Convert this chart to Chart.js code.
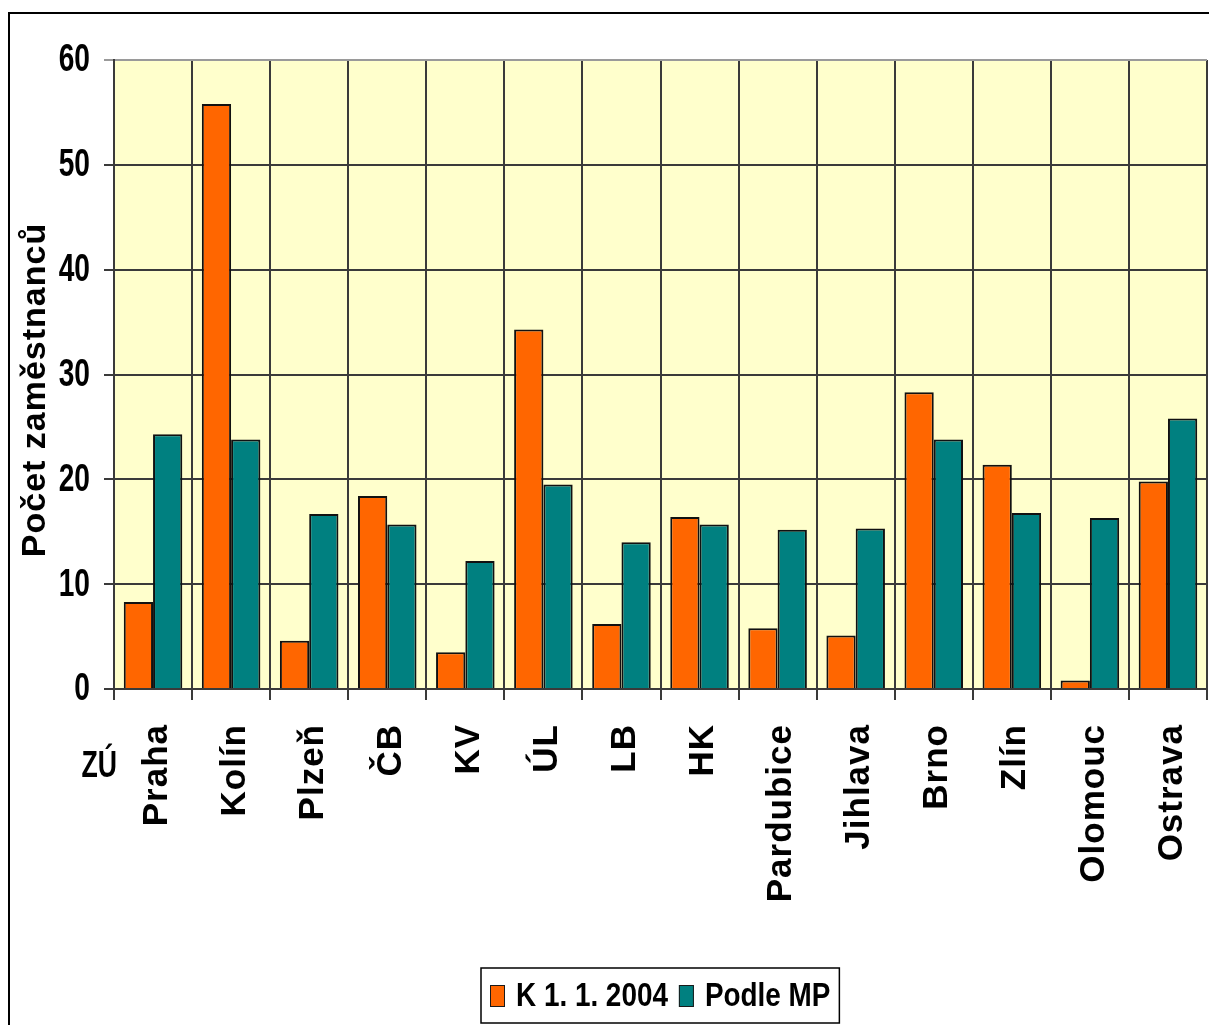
<!DOCTYPE html>
<html>
<head>
<meta charset="utf-8">
<script src="https://cdn.jsdelivr.net/npm/chart.js@4"></script>
<style>
  html, body { margin: 0; padding: 0; background: #fff; overflow: hidden; }
  #wrap { position: relative; width: 1209px; height: 1025px; }
  #frame { position: absolute; left: 8px; top: 12px; width: 1300px; height: 1100px;
           border-left: 2px solid #000; border-top: 2px solid #000; }
  #zamestnanci { position: absolute; left: 0; top: 0; }
</style>
</head>
<body>
<div id="wrap">
  <div id="frame"></div>
  <canvas id="zamestnanci" width="1209" height="1025"></canvas>
</div>
<script>
const categories = ['Praha', 'Kolín', 'Plzeň', 'ČB', 'KV', 'ÚL', 'LB', 'HK',
                    'Pardubice', 'Jihlava', 'Brno', 'Zlín', 'Olomouc', 'Ostrava'];
const k2004   = [8.3, 55.8, 4.6, 18.4, 3.5, 34.3, 6.2, 16.4, 5.8, 5.1, 28.3, 21.4, 0.8, 19.8];
const podleMP = [24.3, 23.8, 16.7, 15.7, 12.2, 19.5, 14.0, 15.7, 15.2, 15.3, 23.8, 16.8, 16.3, 25.8];
const seriesNames = ['K 1. 1. 2004', 'Podle MP'];
const seriesColors = ['#FF6600', '#008080'];
const yTitle = 'Počet zaměstnanců';
const groupTitle = 'ZÚ';

const FONT = "'Liberation Sans', Arial, sans-serif";
const gridDark = '#3a3a3a';
const gridEdge = '#9a9a9a';

// narrow bold text: plain Arial-metric face squeezed horizontally
function narrowText(ctx, text, x, y, squeeze) {
    ctx.save();
    ctx.translate(x, y);
    ctx.scale(squeeze, 1);
    ctx.fillText(text, 0, 0);
    ctx.restore();
}

const textPlugin = {
    id: 'axisText',
    afterDraw(chart) {
        const ctx = chart.ctx;
        const xs = chart.scales.x, ys = chart.scales.y;
        const area = chart.chartArea;
        ctx.save();
        ctx.fillStyle = '#000';

        // y tick labels
        ctx.font = 'bold 38px ' + FONT;
        ctx.textAlign = 'right';
        ctx.textBaseline = 'middle';
        ys.ticks.forEach(t => {
            narrowText(ctx, String(t.value), area.left - 24, ys.getPixelForValue(t.value) + 1, 0.74);
        });

        // category names, rotated
        ctx.font = 'bold 35px ' + FONT;
        ctx.letterSpacing = '1px';
        categories.forEach((name, i) => {
            const px = xs.getPixelForValue(i);
            ctx.save();
            ctx.translate(px + 4, area.bottom + 35);
            ctx.rotate(-Math.PI / 2);
            ctx.fillText(name, 0, 0);
            ctx.restore();
        });

        // y title
        ctx.letterSpacing = '1px';
        ctx.font = 'bold 34px ' + FONT;
        ctx.textAlign = 'center';
        ctx.save();
        ctx.translate(36, 390);
        ctx.rotate(-Math.PI / 2);
        ctx.fillText(yTitle, 0, 0);
        ctx.restore();

        // group caption under the axis
        ctx.letterSpacing = '0px';
        ctx.font = 'bold 36px ' + FONT;
        ctx.textAlign = 'right';
        narrowText(ctx, groupTitle, area.left + 3, area.bottom + 78, 0.74);
        ctx.restore();
    }
};

// legend: colour boxes and series names inside a framed box
const legendPlugin = {
    id: 'framedLegend',
    afterDraw(chart) {
        const ctx = chart.ctx;
        const area = chart.chartArea;
        const squeeze = 0.82;
        const sq = 15, sqH = 22, gap = 11, itemGap = 11, pad = 9;
        ctx.save();
        ctx.font = 'bold 34px ' + FONT;
        ctx.textBaseline = 'middle';
        ctx.textAlign = 'left';
        const widths = chart.data.datasets.map(d => ctx.measureText(d.label).width * squeeze);
        let total = pad * 2 + itemGap * (widths.length - 1);
        widths.forEach(w => { total += sq + gap + w; });
        const cx = (area.left + area.right) / 2;
        const cy = area.bottom + 307;
        let x = Math.round(cx - total / 2);
        ctx.strokeStyle = '#000';
        ctx.lineWidth = 1.5;
        ctx.strokeRect(x, cy - 28, total, 55);
        x += pad;
        chart.data.datasets.forEach((d, i) => {
            ctx.fillStyle = d.backgroundColor;
            ctx.fillRect(x, cy - sqH / 2, sq, sqH);
            ctx.lineWidth = 1;
            ctx.strokeStyle = '#1a1a1a';
            ctx.strokeRect(x + 0.5, cy - sqH / 2 + 0.5, sq - 1, sqH - 1);
            x += sq + gap;
            ctx.fillStyle = '#000';
            narrowText(ctx, d.label, x, cy + 1, squeeze);
            x += widths[i] + itemGap;
        });
        ctx.restore();
    }
};

const plotBg = {
    id: 'plotBg',
    beforeDraw(chart) {
        const { ctx, chartArea: a } = chart;
        ctx.save();
        ctx.fillStyle = '#FFFFCC';
        ctx.fillRect(a.left, a.top, a.right - a.left, a.bottom - a.top);
        ctx.restore();
    }
};

const config = {
    type: 'bar',
    data: {
        labels: categories,
        datasets: [{
            label: seriesNames[0],
            data: k2004,
            backgroundColor: seriesColors[0],
            borderColor: '#111',
            borderWidth: 2,
            categoryPercentage: 0.75,
            barPercentage: 1.0
        }, {
            label: seriesNames[1],
            data: podleMP,
            backgroundColor: seriesColors[1],
            borderColor: '#111',
            borderWidth: 2,
            categoryPercentage: 0.75,
            barPercentage: 1.0
        }]
    },
    options: {
        responsive: false,
        animation: false,
        layout: { padding: { top: 60, right: 2, left: 0, bottom: 0 } },
        scales: {
            x: {
                offset: true,
                grid: {
                    offset: true,
                    lineWidth: 2,
                    tickLength: 11,
                    color: ctx => ctx.index === categories.length ? gridEdge : gridDark
                },
                border: { color: gridDark, width: 2 },
                ticks: { display: false },
                afterFit(scale) { scale.height = 336; }
            },
            y: {
                min: 0,
                max: 60,
                grid: {
                    lineWidth: 2,
                    tickLength: 10,
                    color: ctx => ctx.tick && ctx.tick.value === 60 ? gridEdge : gridDark
                },
                border: { color: gridDark, width: 2 },
                ticks: { display: false, stepSize: 10 },
                afterFit(scale) { scale.width = 114; }
            }
        },
        plugins: {
            legend: { display: false },
            tooltip: { enabled: false }
        }
    },
    plugins: [plotBg, textPlugin, legendPlugin]
};

const chart = new Chart(document.getElementById('zamestnanci'), config);
</script>
</body>
</html>
